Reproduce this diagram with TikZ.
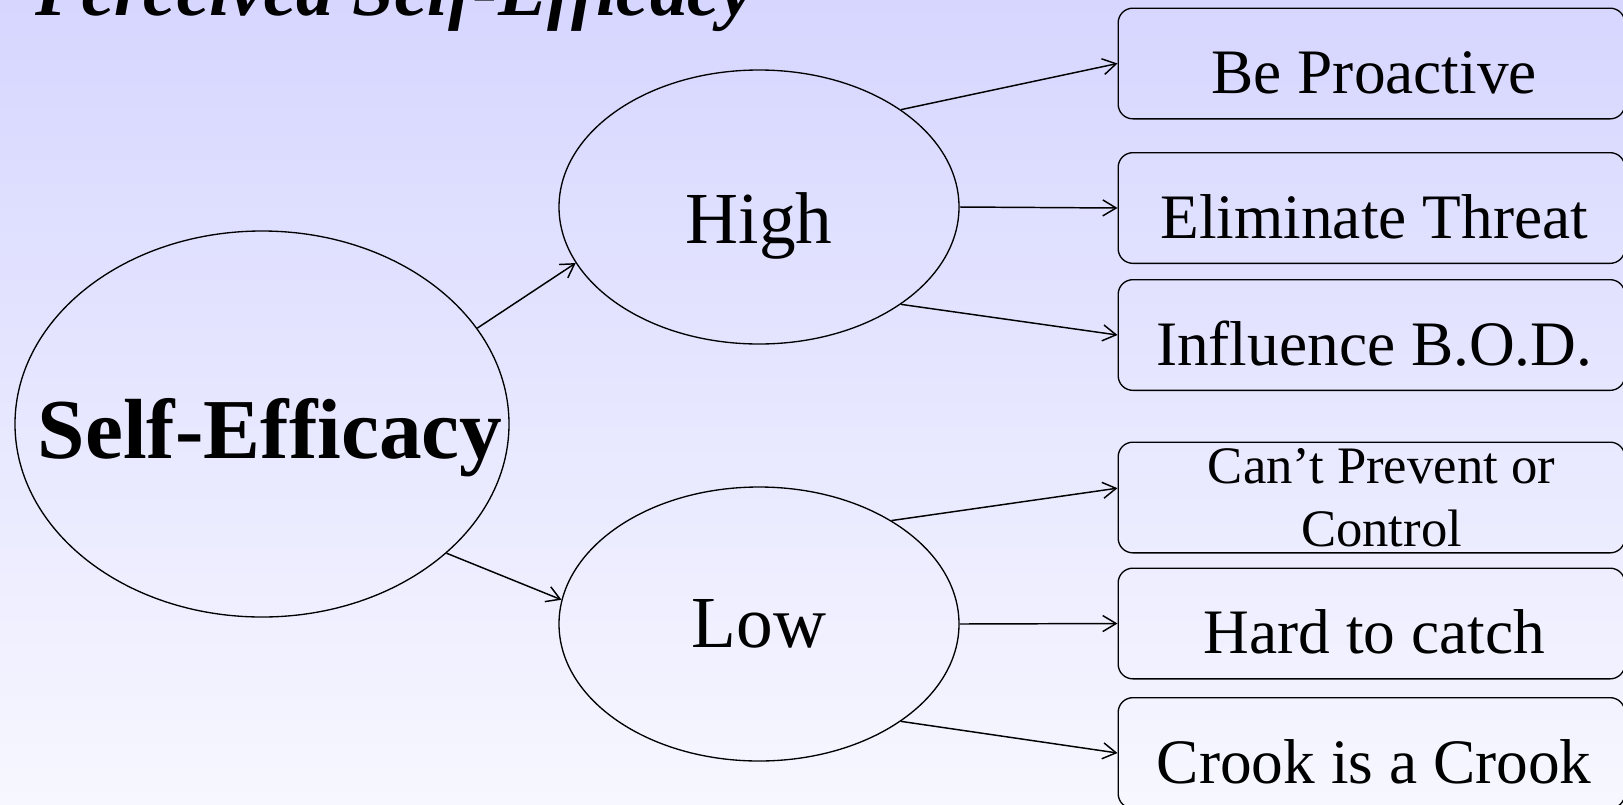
\documentclass[tikz,border=0pt]{standalone}
\usepackage{fontspec}
\setmainfont{Liberation Serif}
\usetikzlibrary{arrows.meta,shapes.geometric}
\definecolor{bgtop}{RGB}{214,214,255}
\definecolor{bgbot}{RGB}{247,247,255}
\begin{document}
\begin{tikzpicture}[x=0.75pt,y=-0.75pt,
  oval/.style={ellipse,draw,line width=1pt,inner sep=0pt},
  choice/.style={rectangle,draw,rounded corners=11pt,line width=1pt,minimum width=380pt,minimum height=83pt,inner sep=0pt,align=center,font=\fontsize{47.5}{57}\selectfont},
  oneline/.style={text height=45pt,text depth=0pt},
  link/.style={-{Straight Barb[length=10pt,width=12pt]},line width=1.1pt}]
\fill[top color=bgtop,bottom color=bgbot] (0,0) rectangle (1623,804);
\useasboundingbox (0,0) rectangle (1623,804);

\node[anchor=base west,font=\fontsize{56}{60}\selectfont\bfseries\itshape] (title) at (31,15) {Perceived Self-Efficacy};

\node[oval,minimum width=370.5pt,minimum height=289.5pt,text height=51pt,text depth=0pt,font=\fontsize{64}{70}\selectfont\bfseries] (self) at (262,424) {\makebox[0pt]{\hspace*{12pt}Self-Efficacy}};
\node[oval,minimum width=300pt,minimum height=205.5pt,text height=54pt,text depth=0pt,font=\fontsize{55}{60}\selectfont] (high) at (759,207) {High};
\node[oval,minimum width=300pt,minimum height=205.5pt,font=\fontsize{55}{60}\selectfont] (low) at (759,624) {Low};

\node[choice,oneline] (b1) at (1371.5,63.5) {\hspace*{4pt}Be Proactive};
\node[choice,oneline] (b2) at (1371.5,208) {\hspace*{4pt}Eliminate Threat};
\node[choice,oneline] (b3) at (1371.5,335) {\hspace*{4pt}Influence B.O.D.};
\node[choice,font=\fontsize{39.5}{47}\selectfont] (b4) at (1371.5,497.5) {\hspace*{15pt}Can’t Prevent or\\\hspace*{15pt}Control};
\node[choice,oneline] (b5) at (1371.5,623.5) {\hspace*{4pt}Hard to catch};
\node[choice,oneline] (b6) at (1371.5,753) {\hspace*{4pt}Crook is a Crook};

\draw[link] (self.24) -- (high.197);
\draw[link] (self.-35) -- (low.173);
\draw[link] (high.north east) -- (b1.west);
\draw[link] (high.east) -- (b2.west);
\draw[link] (high.south east) -- (b3.west);
\draw[link] (low.38) -- ([yshift=7pt]b4.west);
\draw[link] (low.east) -- (b5.west);
\draw[link] (low.south east) -- (b6.west);
\end{tikzpicture}
\end{document}
